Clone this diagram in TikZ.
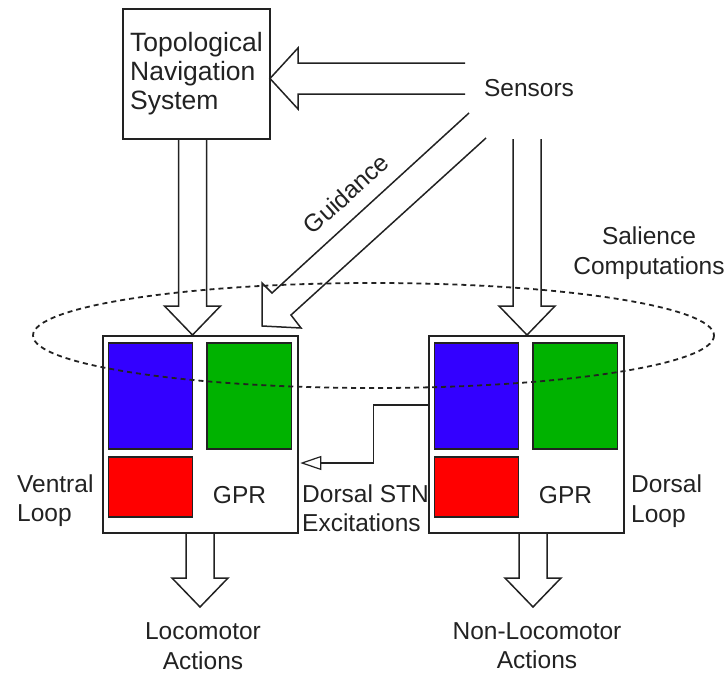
\documentclass[tikz,border=0pt]{standalone}
\usepackage{fontspec}
\setmainfont{Liberation Sans}
\usetikzlibrary{calc,arrows.meta}

\definecolor{gprblue}{RGB}{51,0,255}
\definecolor{gprgreen}{RGB}{0,178,0}
\definecolor{gprred}{RGB}{255,0,0}
\definecolor{ink}{RGB}{34,34,34}

\begin{document}
\begin{tikzpicture}[x=1pt,y=-1pt,
  every node/.style={font=\fontsize{24.5}{29.5}\selectfont, inner sep=0pt, text=ink},
  box/.style={draw=ink, line width=1.5pt},
  fat/.style={draw=ink, line width=1.5pt, line join=miter},
  chan/.style={draw=ink, line width=1.2pt}]

\useasboundingbox (0,0) rectangle (726,675);

\node[box, minimum width=147, minimum height=130, align=left,
      font=\fontsize{26.5}{29}\selectfont] (nav) at (196.5,74) {Topological\\Navigation\\System};

\node[box, minimum width=195, minimum height=197] (lgpr) at (200.5,434.5) {};
\node[box, minimum width=195, minimum height=197] (rgpr) at (526.5,434.5) {};

\foreach \g in {lgpr,rgpr}
{
    \draw[chan, fill=gprblue] (\g.center) + (-92,-91.5) rectangle +(-8,14.5);
    \draw[chan, fill=gprgreen] (\g.center) + (6.5,-91.5) rectangle +(91,14.5);
    \draw[chan, fill=gprred] (\g.center) + (-92,22.5) rectangle +(-8,82.5);
    \node (\g txt) at ($(\g.center)+(39,60.5)$) {GPR};
}

\node (sens) at (529,88) {Sensors};
\node[align=center] (sal) at (649,253) {Salience\\Computations};
\node[align=left, anchor=west] (ventral) at (17,500.5) {Ventral\\Loop};
\node[align=left, anchor=west] (dorsal) at (631,501) {Dorsal\\Loop};
\node[align=left, anchor=west] (stn) at (302,508) {Dorsal STN\\Excitations};
\node[align=center] (locolbl) at (203,646) {Locomotor\\Actions};
\node[align=center] (nonlocolbl) at (537,645.5) {Non-Locomotor\\Actions};
\node[rotate=42] (guide) at (346,194) {Guidance};

\coordinate (navout) at (192.5,139);
\coordinate (lgprin) at (192.5,335);
\coordinate (sensout) at (527,139);
\coordinate (rgprin) at (527,335);
\coordinate (lgprout) at (200,533);
\coordinate (locoin) at (200,607);
\coordinate (rgprout) at (533,533);
\coordinate (nonlocoin) at (533,607);

\foreach \t/\h in {navout/lgprin,sensout/rgprin,lgprout/locoin,rgprout/nonlocoin}
{
    \draw[fat] (\t) ++(-14,0) -- ($(\h)+(-14,-29)$) -- ++(-14,0) -- (\h)
        -- ++(28,-29) -- ++(-14,0) -- ($(\t)+(14,0)$);
}

\coordinate (sensleft) at (465,78.5);
\coordinate (navin) at (270,78.5);
\draw[fat] (sensleft) ++(0,-15.5) -- ($(navin)+(28,-15.5)$) -- ++(0,-15) -- (navin)
    -- ++(28,30.5) -- ++(0,-15) -- ($(sensleft)+(0,15.5)$);

\coordinate (guidetip) at (262,326);
\draw[fat] (486,138) -- (291,315) -- (301,328) -- (guidetip) -- (262,283) -- (272,293) -- (469,113);

\draw[chan, -{Triangle[open, length=21pt, width=14pt]}]
    ($(rgpr.west)+(0,-29.5)$) -| ++(-55,58) -- ($(lgpr.east)+(1.5,28.5)$);

\draw[ink, line width=1.8pt, dash pattern=on 5pt off 4pt] (373.5,335.5) ellipse [x radius=340.5, y radius=52.5];

\end{tikzpicture}
\end{document}
